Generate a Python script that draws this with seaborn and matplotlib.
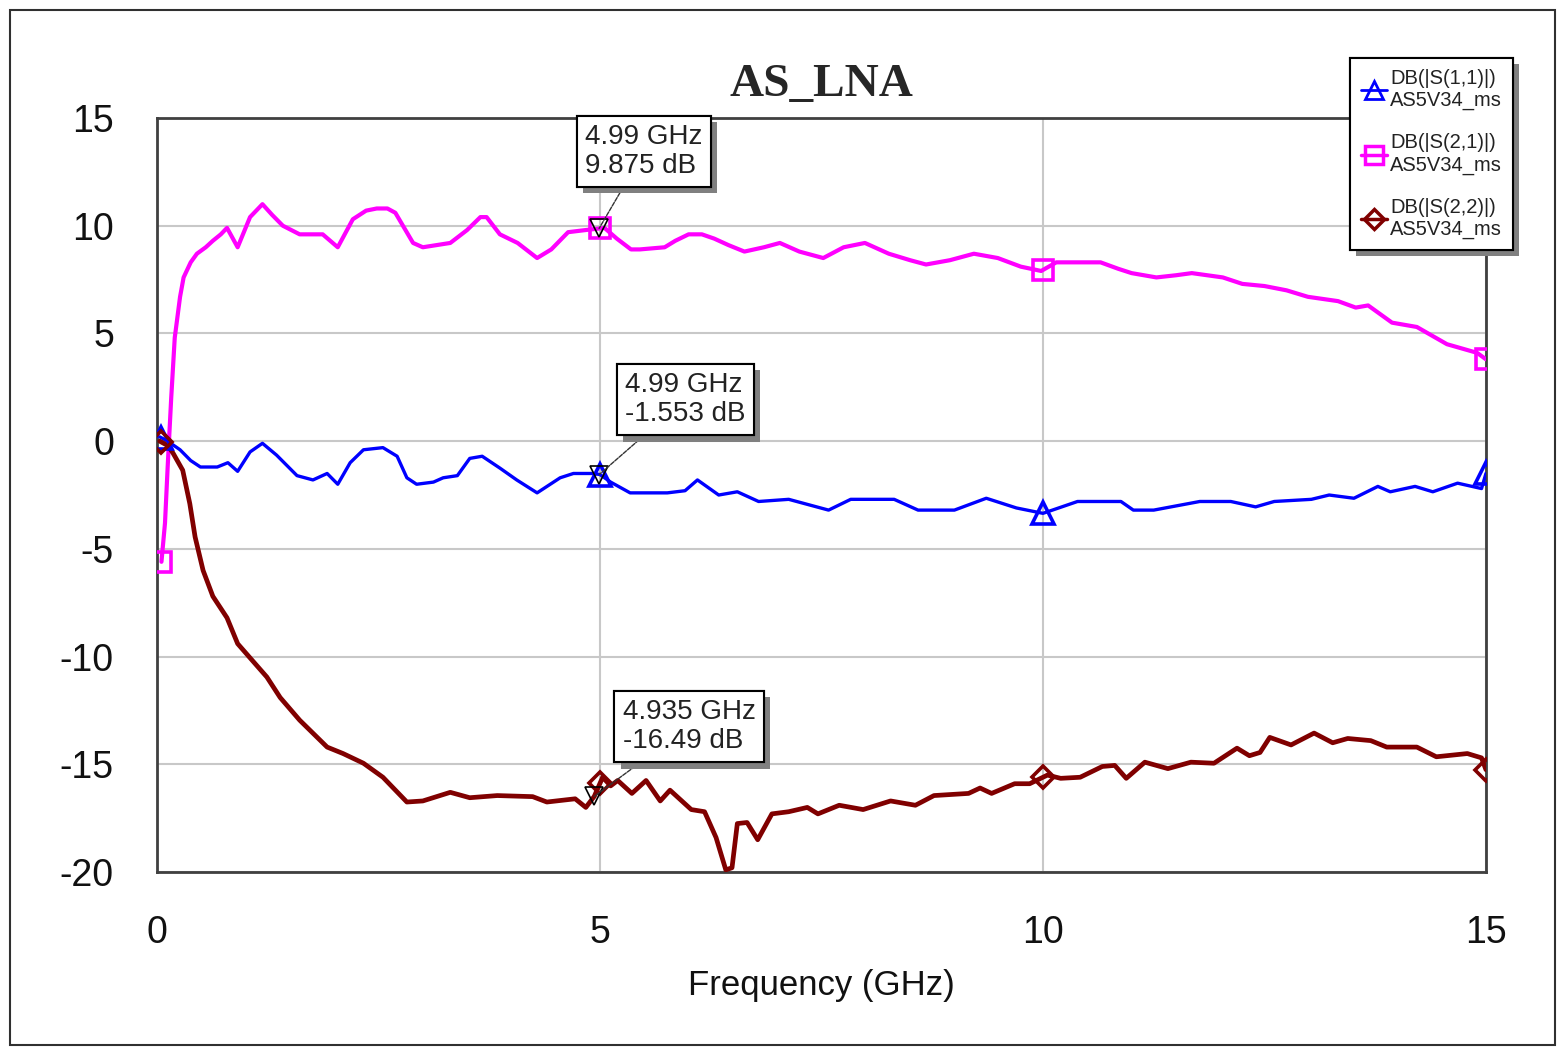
import numpy as np
import matplotlib
matplotlib.use("Agg")
import matplotlib.pyplot as plt
import matplotlib.patheffects as pe
from matplotlib.lines import Line2D
from matplotlib.patches import Rectangle
import seaborn as sns

sns.set_theme(style="white")
plt.rcParams['font.family'] = ['Liberation Sans', 'DejaVu Sans']
plt.rcParams['axes.unicode_minus'] = False

# ---- data (frequency in GHz, level in dB) ----
S11_FREQ = [0.03, 0.12, 0.26, 0.38, 0.49, 0.68, 0.80, 0.91, 1.05, 1.19, 1.35, 1.58, 1.76,
            1.92, 2.04, 2.18, 2.33, 2.55, 2.71, 2.82, 2.93, 3.12, 3.23, 3.39, 3.53, 3.67,
            3.87, 4.06, 4.29, 4.55, 4.70, 4.92, 5.00, 5.12, 5.34, 5.76, 5.96, 6.10, 6.34,
            6.55, 6.79, 7.13, 7.58, 7.83, 8.32, 8.59, 9.00, 9.36, 9.70, 10.00, 10.39,
            10.88, 11.02, 11.25, 11.77, 12.12, 12.40, 12.61, 13.03, 13.23, 13.51, 13.78,
            13.92, 14.20, 14.40, 14.68, 14.95, 15.00]
S11_DB = [0.2, 0.0, -0.4, -0.9, -1.2, -1.2, -1.0, -1.4, -0.5, -0.1, -0.65, -1.6, -1.8,
          -1.5, -2.0, -1.0, -0.4, -0.3, -0.7, -1.7, -2.0, -1.9, -1.7, -1.6, -0.8, -0.7,
          -1.25, -1.8, -2.4, -1.7, -1.5, -1.5, -1.55, -1.9, -2.4, -2.4, -2.3, -1.8, -2.5,
          -2.35, -2.8, -2.7, -3.2, -2.7, -2.7, -3.2, -3.2, -2.65, -3.1, -3.35, -2.8,
          -2.8, -3.2, -3.2, -2.8, -2.8, -3.05, -2.8, -2.7, -2.5, -2.65, -2.1,
          -2.35, -2.1, -2.35, -1.95, -2.2, -1.5]

S21_FREQ = [0.05, 0.09, 0.12, 0.16, 0.20, 0.26, 0.30, 0.38, 0.45, 0.55, 0.63, 0.72, 0.79,
            0.91, 1.05, 1.19, 1.30, 1.42, 1.61, 1.87, 2.04, 2.21, 2.36, 2.48, 2.60, 2.69,
            2.89, 3.00, 3.31, 3.50, 3.65, 3.72, 3.87, 4.07, 4.29, 4.45, 4.64, 4.84, 5.00,
            5.05, 5.19, 5.35, 5.45, 5.73, 5.85, 6.00, 6.15, 6.29, 6.45, 6.63, 6.85, 7.03,
            7.25, 7.52, 7.75, 7.99, 8.26, 8.50, 8.68, 8.95, 9.22, 9.49, 9.75, 9.98, 10.15,
            10.32, 10.65, 10.85, 11.00, 11.28, 11.50, 11.68, 12.03, 12.25, 12.50, 12.75,
            12.99, 13.33, 13.53, 13.67, 13.94, 14.22, 14.56, 14.90, 15.00]
S21_DB = [-5.6, -3.8, -1.2, 2.0, 4.8, 6.7, 7.6, 8.3, 8.7, 9.0, 9.3, 9.6, 9.9,
          9.0, 10.4, 11.0, 10.5, 10.0, 9.6, 9.6, 9.0, 10.3, 10.7, 10.8, 10.8, 10.6,
          9.2, 9.0, 9.2, 9.8, 10.4, 10.4, 9.6, 9.2, 8.5, 8.9, 9.7, 9.8, 9.875,
          9.9, 9.4, 8.9, 8.9, 9.0, 9.3, 9.6, 9.6, 9.4, 9.1, 8.8, 9.0, 9.2,
          8.8, 8.5, 9.0, 9.2, 8.7, 8.4, 8.2, 8.4, 8.7, 8.5, 8.1, 7.9, 8.3,
          8.3, 8.3, 8.0, 7.8, 7.6, 7.7, 7.8, 7.6, 7.3, 7.2, 7.0,
          6.7, 6.5, 6.2, 6.3, 5.5, 5.3, 4.5, 4.1, 3.8]

S22_FREQ = [0.03, 0.12, 0.18, 0.29, 0.37, 0.43, 0.52, 0.63, 0.79, 0.91, 1.08, 1.24, 1.39,
            1.61, 1.92, 2.10, 2.33, 2.55, 2.82, 3.00, 3.31, 3.53, 3.84, 4.24, 4.40, 4.72,
            4.84, 4.935, 5.03, 5.12, 5.20, 5.36, 5.52, 5.68, 5.79, 6.03, 6.18, 6.31, 6.42,
            6.49, 6.55, 6.66, 6.78, 6.94, 7.13, 7.34, 7.46, 7.70, 7.97, 8.28, 8.56, 8.77,
            9.16, 9.29, 9.42, 9.68, 9.85, 10.05, 10.20, 10.42, 10.67, 10.81, 10.94, 11.15,
            11.41, 11.67, 11.93, 12.19, 12.33, 12.45, 12.56, 12.80, 13.06, 13.27, 13.44,
            13.70, 13.88, 14.22, 14.44, 14.79, 14.95, 15.00]
S22_DB = [0.0, -0.2, -0.55, -1.35, -2.9, -4.45, -6.0, -7.2, -8.2, -9.4, -10.2, -10.95, -11.9,
          -12.95, -14.2, -14.5, -14.95, -15.6, -16.75, -16.7, -16.3, -16.55, -16.45, -16.5,
          -16.75, -16.6, -17.0, -16.49, -15.6, -16.0, -15.75, -16.35, -15.75, -16.7, -16.2,
          -17.1, -17.2, -18.4, -19.9, -19.8, -17.75, -17.7, -18.5, -17.3, -17.2, -17.0,
          -17.3, -16.9, -17.1, -16.7, -16.9, -16.45, -16.35, -16.1, -16.35, -15.9, -15.9,
          -15.5, -15.65, -15.6, -15.1, -15.05, -15.65, -14.9, -15.2, -14.9, -14.95, -14.25,
          -14.6, -14.45, -13.75, -14.1, -13.55, -14.0, -13.8, -13.9, -14.2, -14.2, -14.65,
          -14.5, -14.7, -15.25]

MARKER_FREQ = [0.05, 5.0, 10.0, 15.0]
MARKER_LABELS = ["4.99 GHz\n9.875 dB", "4.99 GHz\n-1.553 dB", "4.935 GHz\n-16.49 dB"]
MARKER_POS = [(4.99, 9.875), (4.99, -1.553), (4.935, -16.49)]
LEGEND_TEXT = ["DB(|S(1,1)|)\nAS5V34_ms", "DB(|S(2,1)|)\nAS5V34_ms", "DB(|S(2,2)|)\nAS5V34_ms"]

BLUE, MAGENTA, BROWN = "#0000FF", "#FF00FF", "#800000"

fig = plt.figure(figsize=(15.64, 10.47), dpi=100)
ax = fig.add_axes([0.1004, 0.1671, 0.8497, 0.7202])

traces = [
    (S11_FREQ, S11_DB, BLUE, 2.4, '^', 16),
    (S21_FREQ, S21_DB, MAGENTA, 3.0, 's', 15),
    (S22_FREQ, S22_DB, BROWN, 3.4, 'D', 11),
]
for fx, fy, col, lw, mk, ms in traces:
    sns.lineplot(x=fx, y=fy, ax=ax, color=col, linewidth=lw, estimator=None, zorder=3)
    ax.plot(MARKER_FREQ, np.interp(MARKER_FREQ, fx, fy), ls='none', marker=mk, ms=ms,
            mfc='none', mec=col, mew=2.6, zorder=4)

# marker readouts with shadowed boxes
offsets = [(45, 77), (86, 75), (95, 70)]
for (mx, my), txt, off in zip(MARKER_POS, MARKER_LABELS, offsets):
    ax.plot([mx], [my], ls='none', marker='v', ms=13, mfc='none', mec='black', mew=1.2, zorder=6)
    ann = ax.annotate(txt, xy=(mx, my), xytext=off, textcoords='offset pixels',
                      ha='center', va='center', multialignment='left', fontsize=20,
                      color='#222222', zorder=7, linespacing=1.15,
                      bbox=dict(boxstyle='square,pad=0.3', fc='white', ec='black', lw=1.5),
                      arrowprops=dict(arrowstyle='-', color='#333333', lw=1,
                                      linestyle=(0, (3, 1)), shrinkA=0, shrinkB=0))
    ann.get_bbox_patch().set_path_effects(
        [pe.withSimplePatchShadow(offset=(4.5, -4.5), shadow_rgbFace='#808080', alpha=1.0),
         pe.Normal()])

ax.set_xlim(0, 15)
ax.set_ylim(-20, 15)
ax.set_xticks([0, 5, 10, 15])
ax.set_yticks(list(range(-20, 16, 5)))
ax.grid(True, color='#C8C8C8', linewidth=1.5)
ax.tick_params(length=0, labelsize=27, pad=31, labelcolor='#111111')
for sp in ax.spines.values():
    sp.set_color('#404040')
    sp.set_linewidth(2)

ax.set_title('AS_LNA', family=['Liberation Serif', 'DejaVu Serif'], fontweight='bold',
             fontsize=34, pad=16)
ax.set_xlabel('Frequency (GHz)', fontsize=25, labelpad=13, color='#111111')
ax.set_ylabel('')

handles = [
    Line2D([], [], color=BLUE, lw=2, marker='^', ms=13, mfc='none', mec=BLUE, mew=2),
    Line2D([], [], color=MAGENTA, lw=2.5, marker='s', ms=13, mfc='none', mec=MAGENTA, mew=2.5),
    Line2D([], [], color=BROWN, lw=2.5, marker='D', ms=10, mfc='none', mec=BROWN, mew=2.5),
]
leg = ax.legend(handles, LEGEND_TEXT, loc='upper right',
                bbox_to_anchor=(1513 / 1564, 1 - 58 / 1047), bbox_transform=fig.transFigure,
                fontsize=14.5, handlelength=1.3, handletextpad=0.15, labelspacing=1.15,
                borderpad=0.55, borderaxespad=0, fancybox=False, framealpha=1,
                edgecolor='black', labelcolor='#222222')
leg.get_frame().set_linewidth(1.5)
leg.get_frame().set_path_effects(
    [pe.withSimplePatchShadow(offset=(4.5, -4.5), shadow_rgbFace='#808080', alpha=1.0),
     pe.Normal()])
leg.set_zorder(10)

fig.add_artist(Rectangle((0.0064, 0.002), 0.9878, 0.9884, transform=fig.transFigure,
                         fill=False, ec='#303030', lw=1.5))

plt.savefig('out.png', dpi=100)
plt.close()
